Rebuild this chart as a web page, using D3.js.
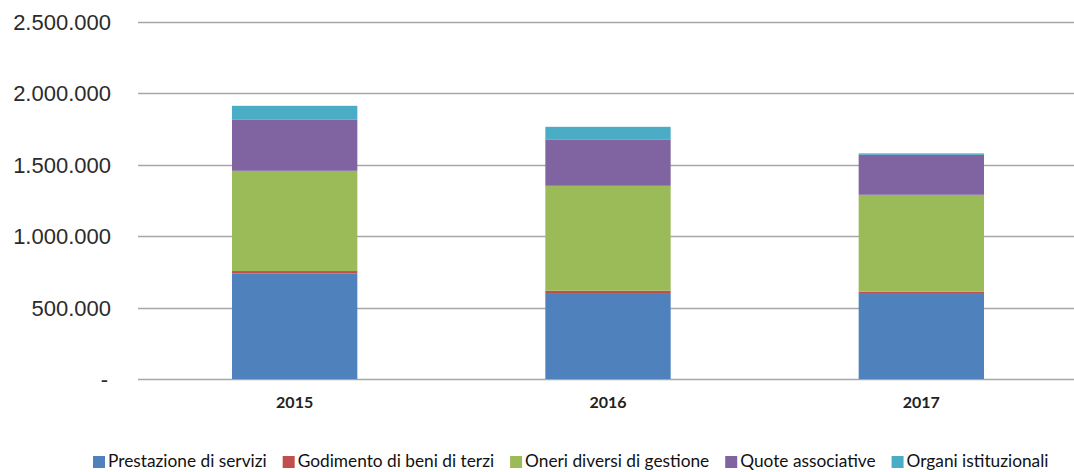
<!DOCTYPE html>
<html>
<head>
<meta charset="utf-8">
<script src="https://cdn.jsdelivr.net/npm/d3@7"></script>
<style>
  body { margin: 0; background: #fff; }
  svg { display: block; }
</style>
</head>
<body>
<div id="chart"></div>
<script>
// values
const years = ["2015", "2016", "2017"];
const seriesNames = ["Prestazione di servizi", "Godimento di beni di terzi", "Oneri diversi di gestione", "Quote associative", "Organi istituzionali"];
const prestazione = [740000, 602000, 602000];
const godimento = [16000, 16000, 9000];
const oneri = [702000, 735000, 679000];
const quote = [357000, 325000, 280000];
const organi = [98000, 88000, 10000];
const yTicks = [0, 500000, 1000000, 1500000, 2000000, 2500000];
const colors = ["#4F81BD", "#C0504D", "#9BBB59", "#8064A2", "#4BACC6"];

const seriesValues = [prestazione, godimento, oneri, quote, organi];
const rows = years.map((y, i) => {
    const r = {year: y};
    seriesNames.forEach((s, j) => r[s] = seriesValues[j][i]);
    return r;
});

const W = 1074, H = 472;
const margin = {top: 22, right: -4, bottom: 93, left: 138};
const width = W - margin.left - margin.right;
const height = H - margin.top - margin.bottom;

const svg = d3.select("#chart").append("svg")
    .attr("width", W)
    .attr("height", H);

const g = svg.append("g").attr("transform", `translate(${margin.left},${margin.top})`);

const x = d3.scaleBand()
    .domain(years)
    .range([0, width])
    .paddingInner(0.6)
    .paddingOuter(0.3);

const y = d3.scaleLinear()
    .domain([0, 2500000])
    .range([height, 0]);

const fmt = v => v === 0 ? "-" : d3.format(",")(v).replace(/,/g, ".");

// gridlines
g.append("g")
    .selectAll("line")
    .data(yTicks)
    .enter().append("line")
    .attr("x1", 0)
    .attr("x2", width)
    .attr("y1", d => Math.round(y(d)) + 0.5)
    .attr("y2", d => Math.round(y(d)) + 0.5)
    .attr("stroke", "#a6a6a6")
    .attr("stroke-width", 1.3);

// y labels
g.append("g")
    .selectAll("text")
    .data(yTicks)
    .enter().append("text")
    .attr("x", d => d === 0 ? -30 : -27)
    .attr("y", d => y(d))
    .attr("dy", "0.36em")
    .attr("text-anchor", "end")
    .attr("font-family", "Liberation Sans, Arial, sans-serif")
    .attr("font-size", 22)
    .attr("fill", "#2b2b2b")
    .text(fmt);

// stacked bars
const stack = d3.stack().keys(seriesNames);
const layers = stack(rows);

g.append("g")
    .selectAll("g")
    .data(layers)
    .enter().append("g")
    .attr("fill", (d, i) => colors[i])
    .selectAll("rect")
    .data(d => d)
    .enter().append("rect")
    .attr("x", d => x(d.data.year))
    .attr("width", x.bandwidth())
    .attr("y", d => y(d[1]))
    .attr("height", d => y(d[0]) - y(d[1]));

// x labels
g.append("g")
    .selectAll("text")
    .data(years)
    .enter().append("text")
    .attr("x", d => x(d) + x.bandwidth() / 2)
    .attr("y", height + 23)
    .attr("dy", "0.36em")
    .attr("text-anchor", "middle")
    .attr("font-family", "Lato, sans-serif")
    .attr("font-weight", "bold")
    .attr("font-size", 16)
    .attr("fill", "#222")
    .text(d => d);

// legend
const legend = svg.append("g").attr("transform", "translate(93,467)");
let lx = 0;
seriesNames.forEach((s, i) => {
    const item = legend.append("g").attr("transform", `translate(${lx},0)`);
    item.append("rect")
        .attr("x", 0)
        .attr("y", -11)
        .attr("width", 12)
        .attr("height", 12)
        .attr("fill", colors[i]);
    const t = item.append("text")
        .attr("x", 15)
        .attr("y", 0)
        .attr("font-family", "Lato, sans-serif")
        .attr("font-size", 17.3)
        .attr("fill", "#111")
        .text(s);
    lx += 15 + t.node().getComputedTextLength() + 16;
});
</script>
</body>
</html>
